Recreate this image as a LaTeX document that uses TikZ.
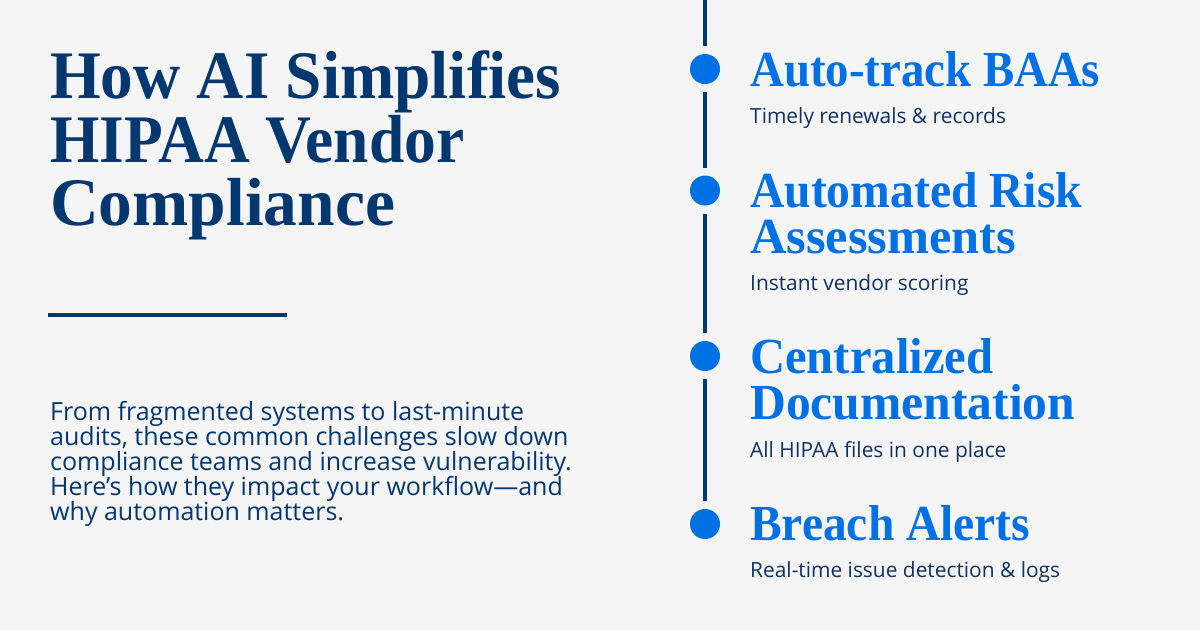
\documentclass[tikz,border=0pt]{standalone}
\usepackage{graphicx}
\usepackage{fontspec}
\setmainfont{Open Sans}
\newfontfamily\headfont{Liberation Serif}
\newcommand\fitto[2]{\resizebox{#1pt}{\height}{#2}}
\definecolor{bgc}{HTML}{F5F5F5}
\definecolor{navy}{HTML}{03376F}
\definecolor{inktext}{HTML}{0F3263}
\definecolor{blue}{HTML}{0070E5}
\tikzset{
  px/.style={x=1pt,y=-1pt},
  title/.style={anchor=base west,inner sep=0pt,text=navy,font=\headfont\bfseries\fontsize{68}{68}\selectfont},
  head/.style={anchor=base west,inner sep=0pt,text=blue,font=\headfont\bfseries\fontsize{50.5}{50.5}\selectfont},
  sub/.style={anchor=base west,inner sep=0pt,text=inktext,font=\fontsize{20.9}{20.9}\selectfont},
  para/.style={anchor=base west,inner sep=0pt,text=navy,font=\fontsize{25}{25}\selectfont},
  dot/.style={circle,fill=blue,inner sep=0pt,minimum size=30pt},
  tline/.style={draw=navy,line width=4pt}
}
\begin{document}
\begin{tikzpicture}[px]
\useasboundingbox[fill=bgc] (0,0) rectangle (1200,630);
\node[title] (t1) at (50,98) {\fitto{511}{How AI Simplifies}};
\node[title] (t2) at (50,162) {\fitto{414}{HIPAA Vendor}};
\node[title] (t3) at (50,225) {\fitto{345}{Compliance}};
\coordinate (ruleA) at (48,314.5);
\coordinate (ruleB) at (287,314.5);
\draw[tline] (ruleA) -- (ruleB);
\node[para] (p1) at (50,420) {From fragmented systems to last-minute};
\node[para] (p2) at (50,445) {audits, these common challenges slow down};
\node[para] (p3) at (50,470) {compliance teams and increase vulnerability.};
\node[para] (p4) at (50,495) {Here’s how they impact your workflow—and};
\node[para] (p5) at (50,520) {why automation matters.};
\coordinate (top) at (705,0);
\coordinate (s0a) at (705,46);
\coordinate (s1a) at (705,92);
\coordinate (s1b) at (705,167.5);
\coordinate (s2a) at (705,214);
\coordinate (s2b) at (705,332.5);
\coordinate (s3a) at (705,379);
\coordinate (s3b) at (705,500.5);
\draw[tline] (top) -- (s0a);
\draw[tline] (s1a) -- (s1b);
\draw[tline] (s2a) -- (s2b);
\draw[tline] (s3a) -- (s3b);
\node[dot] (d1) at (705,69) {};
\node[dot] (d2) at (705,190.5) {};
\node[dot] (d3) at (705,356) {};
\node[dot] (d4) at (705,524) {};
\node[head] (h1) at (750,86) {\fitto{350}{Auto-track BAAs}};
\node[sub] (s1) at (750,123) {Timely renewals \& records};
\node[head] (h2a) at (750,207) {\fitto{332}{Automated Risk}};
\node[head] (h2b) at (750,253) {\fitto{266}{Assessments}};
\node[sub] (s2) at (750,290) {Instant vendor scoring};
\node[head] (h3a) at (750,373) {\fitto{243}{Centralized}};
\node[head] (h3b) at (750,419) {\fitto{325}{Documentation}};
\node[sub] (s3) at (750,457) {All HIPAA files in one place};
\node[head] (h4) at (750,540) {\fitto{280}{Breach Alerts}};
\node[sub] (s4) at (750,577) {Real-time issue detection \& logs};
\end{tikzpicture}
\end{document}
